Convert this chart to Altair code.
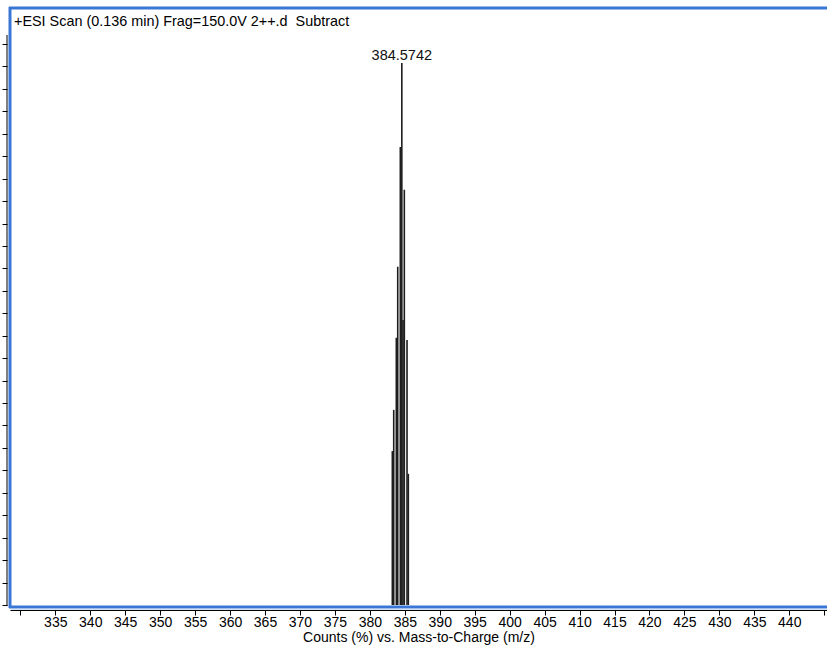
import altair as alt
import pandas as pd

# Centroided peaks of the 2+ isotope cluster (m/z, relative abundance %)
mz = [383.215, 383.415, 383.787, 383.988, 384.360, 384.5742,
      384.746, 384.932, 385.318, 385.504]
abundance = [28.4, 36.0, 49.3, 62.4, 84.5, 100.0, 52.6, 76.6, 48.9, 24.2]

x_ticks = list(range(330, 450, 5))
y_ticks = [round(k * 4.14, 2) for k in range(26)]

header = "+ESI Scan (0.136 min) Frag=150.0V 2++.d\u00a0 Subtract"
x_title = "Counts (%) vs. Mass-to-Charge (m/z)"

FONT = "Liberation Sans"
FRAME = "#3a76d6"
W, H = 817, 597

df = pd.DataFrame({"mz": mz, "pct": abundance})
one = pd.DataFrame({"k": [0]})

x_scale = alt.Scale(domain=[328.52, 445.40], nice=False, zero=False)
y_scale = alt.Scale(domain=[0, 110.15], nice=False, zero=True)

x_axis = alt.Axis(
    values=x_ticks,
    tickCount=200,
    format="d",
    labelExpr="(datum.value < 335 || datum.value > 440) ? '' : datum.label",
    labelOverlap=False,
    labelFlush=False,
    labelFont=FONT,
    labelFontSize=14,
    labelColor="black",
    labelPadding=0,
    domainColor="black",
    tickColor="black",
    tickSize=5,
    offset=5,
    grid=False,
    title=x_title,
    titleFont=FONT,
    titleFontSize=14,
    titleFontWeight="normal",
    titleColor="black",
    titlePadding=1,
)

y_axis = alt.Axis(
    values=y_ticks,
    tickCount=200,
    labels=False,
    domain=False,
    tickColor="black",
    tickSize=5,
    offset=3,
    grid=False,
    title=None,
)

bars = alt.Chart(df).mark_rule(strokeWidth=1.6, color="#1e1e1e").encode(
    x=alt.X("mz:Q", scale=x_scale, axis=x_axis),
    y=alt.Y("pct:Q", scale=y_scale, axis=y_axis),
    y2=alt.datum(0),
)

peak_label = alt.Chart(df).transform_filter("datum.pct >= 100").mark_text(
    font=FONT, fontSize=14.5, color="#111111", baseline="alphabetic", dy=-3
).encode(
    x=alt.X("mz:Q", scale=x_scale, axis=x_axis),
    y=alt.Y("pct:Q", scale=y_scale, axis=y_axis),
    text=alt.Text("mz:Q", format=".4f"),
)

# left axis line (shorter than the plot frame)
y_line = alt.Chart(one).mark_rule(color="black", strokeWidth=1).encode(
    x=alt.value(-3), y=alt.datum(-0.2), y2=alt.datum(105.17)
)

# blue frame: top, left, bottom edges
frame_top = alt.Chart(one).mark_rule(color=FRAME, strokeWidth=3).encode(
    x=alt.value(-1), x2=alt.value(W), y=alt.value(0)
)
frame_left = alt.Chart(one).mark_rule(color=FRAME, strokeWidth=3).encode(
    x=alt.value(0), y=alt.value(-1), y2=alt.value(H + 3)
)
frame_bottom = alt.Chart(one).mark_rule(color=FRAME, strokeWidth=3).encode(
    x=alt.value(-1), x2=alt.value(W), y=alt.value(H + 2)
)
frame_bottom_edge = alt.Chart(one).mark_rule(color="#a9c5ee", strokeWidth=1).encode(
    x=alt.value(1), x2=alt.value(W), y=alt.value(H + 4)
)

header_text = alt.Chart(one).mark_text(
    font=FONT, fontSize=14.4, color="black", align="left", baseline="alphabetic"
).encode(x=alt.value(4), y=alt.value(17.5), text=alt.value(header))

chart = alt.layer(
    bars, peak_label, y_line, frame_top, frame_left, frame_bottom,
    frame_bottom_edge, header_text
).properties(
    width=W, height=H,
    autosize=alt.AutoSizeParams(type="none"),
    padding={"left": 10, "top": 8, "right": 0, "bottom": 43},
    background="white",
).configure_view(stroke=None)

chart.save("out.html", embed_options={"renderer": "svg", "actions": False})
